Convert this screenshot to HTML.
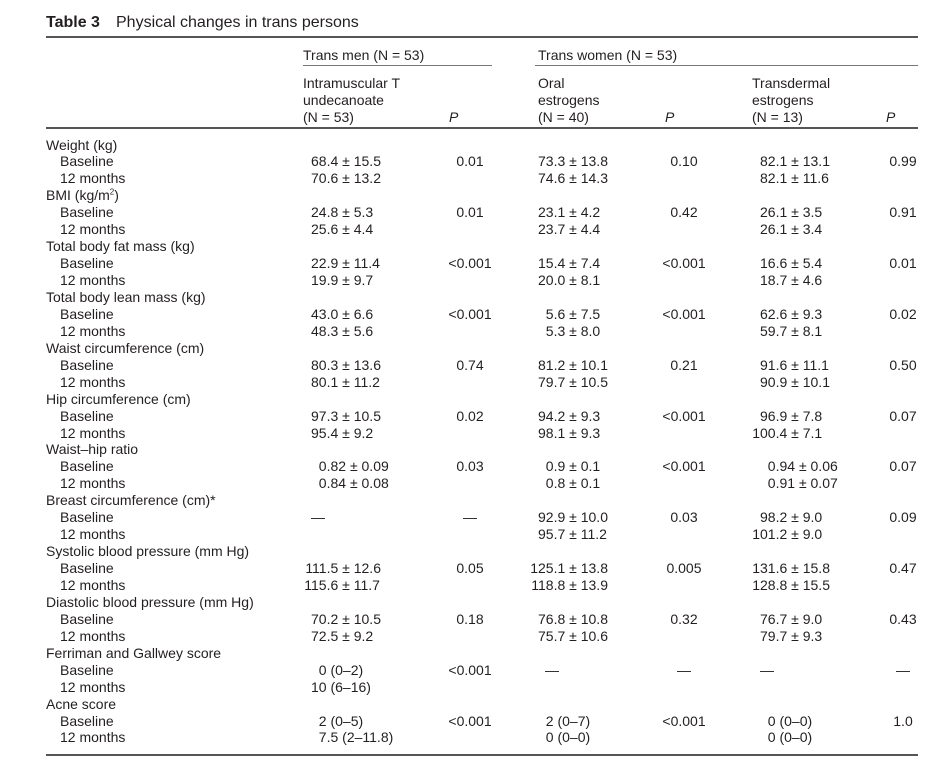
<!DOCTYPE html>
<html><head><meta charset="utf-8"><style>
body{margin:0;width:950px;height:763px;background:#fff;position:relative;font-family:"Liberation Sans",Arial,sans-serif;color:#231f20;font-size:14px;overflow:hidden}
.r{position:absolute;left:0;width:950px;height:17px;line-height:17px}
.r span{position:absolute;white-space:nowrap;top:0}
.l{left:46px}.s{left:60px}
.c1{left:296.6px}.c2{left:523.6px}.c3{left:745.6px}
.p1{left:440px;width:60px;text-align:center}.p2{left:654px;width:60px;text-align:center}.p3{left:873px;width:60px;text-align:center}
i{font-style:normal;display:inline-block;width:30px;text-align:right}
.d1{left:311px}.d2{left:545px}.d3{left:760px}
.h{position:absolute;white-space:nowrap;line-height:17px}
.rule{position:absolute;background:#555}
</style></head><body>
<div class="h" style="left:46px;top:14px;font-size:16px;font-weight:bold">Table 3</div>
<div class="h" style="left:116px;top:14px;font-size:16px">Physical changes in trans persons</div>
<div class="rule" style="left:46px;top:36px;width:872px;height:1.5px"></div>
<div class="h" style="left:303px;top:47px">Trans men (N = 53)</div>
<div class="h" style="left:538px;top:47px">Trans women (N = 53)</div>
<div class="rule" style="left:303px;top:65px;width:189px;height:1px;background:#777"></div>
<div class="rule" style="left:535px;top:65px;width:383px;height:1px;background:#777"></div>
<div class="h" style="left:303px;top:75px">Intramuscular T<br>undecanoate<br>(N = 53)</div>
<div class="h" style="left:538px;top:75px">Oral<br>estrogens<br>(N = 40)</div>
<div class="h" style="left:752px;top:75px">Transdermal<br>estrogens<br>(N = 13)</div>
<div class="h" style="left:449px;top:109px;font-style:italic">P</div>
<div class="h" style="left:665px;top:109px;font-style:italic">P</div>
<div class="h" style="left:886px;top:109px;font-style:italic">P</div>
<div class="rule" style="left:46px;top:127px;width:872px;height:1.5px"></div>

<div class="r" style="top:136.5px"><span class="l">Weight (kg)</span></div>
<div class="r" style="top:153.4px"><span class="s">Baseline</span><span class="c1"><i>68</i>.4 ± 15.5</span><span class="p1">0.01</span><span class="c2"><i>73</i>.3 ± 13.8</span><span class="p2">0.10</span><span class="c3"><i>82</i>.1 ± 13.1</span><span class="p3">0.99</span></div>
<div class="r" style="top:170.4px"><span class="s">12 months</span><span class="c1"><i>70</i>.6 ± 13.2</span><span class="c2"><i>74</i>.6 ± 14.3</span><span class="c3"><i>82</i>.1 ± 11.6</span></div>
<div class="r" style="top:187.3px"><span class="l">BMI (kg/m<sup style="font-size:8px;line-height:0">2</sup>)</span></div>
<div class="r" style="top:204.3px"><span class="s">Baseline</span><span class="c1"><i>24</i>.8 ± 5.3</span><span class="p1">0.01</span><span class="c2"><i>23</i>.1 ± 4.2</span><span class="p2">0.42</span><span class="c3"><i>26</i>.1 ± 3.5</span><span class="p3">0.91</span></div>
<div class="r" style="top:221.2px"><span class="s">12 months</span><span class="c1"><i>25</i>.6 ± 4.4</span><span class="c2"><i>23</i>.7 ± 4.4</span><span class="c3"><i>26</i>.1 ± 3.4</span></div>
<div class="r" style="top:238.1px"><span class="l">Total body fat mass (kg)</span></div>
<div class="r" style="top:255.1px"><span class="s">Baseline</span><span class="c1"><i>22</i>.9 ± 11.4</span><span class="p1">&lt;0.001</span><span class="c2"><i>15</i>.4 ± 7.4</span><span class="p2">&lt;0.001</span><span class="c3"><i>16</i>.6 ± 5.4</span><span class="p3">0.01</span></div>
<div class="r" style="top:272px"><span class="s">12 months</span><span class="c1"><i>19</i>.9 ± 9.7</span><span class="c2"><i>20</i>.0 ± 8.1</span><span class="c3"><i>18</i>.7 ± 4.6</span></div>
<div class="r" style="top:289px"><span class="l">Total body lean mass (kg)</span></div>
<div class="r" style="top:305.9px"><span class="s">Baseline</span><span class="c1"><i>43</i>.0 ± 6.6</span><span class="p1">&lt;0.001</span><span class="c2"><i>5</i>.6 ± 7.5</span><span class="p2">&lt;0.001</span><span class="c3"><i>62</i>.6 ± 9.3</span><span class="p3">0.02</span></div>
<div class="r" style="top:322.8px"><span class="s">12 months</span><span class="c1"><i>48</i>.3 ± 5.6</span><span class="c2"><i>5</i>.3 ± 8.0</span><span class="c3"><i>59</i>.7 ± 8.1</span></div>
<div class="r" style="top:339.8px"><span class="l">Waist circumference (cm)</span></div>
<div class="r" style="top:356.7px"><span class="s">Baseline</span><span class="c1"><i>80</i>.3 ± 13.6</span><span class="p1">0.74</span><span class="c2"><i>81</i>.2 ± 10.1</span><span class="p2">0.21</span><span class="c3"><i>91</i>.6 ± 11.1</span><span class="p3">0.50</span></div>
<div class="r" style="top:373.7px"><span class="s">12 months</span><span class="c1"><i>80</i>.1 ± 11.2</span><span class="c2"><i>79</i>.7 ± 10.5</span><span class="c3"><i>90</i>.9 ± 10.1</span></div>
<div class="r" style="top:390.6px"><span class="l">Hip circumference (cm)</span></div>
<div class="r" style="top:407.5px"><span class="s">Baseline</span><span class="c1"><i>97</i>.3 ± 10.5</span><span class="p1">0.02</span><span class="c2"><i>94</i>.2 ± 9.3</span><span class="p2">&lt;0.001</span><span class="c3"><i>96</i>.9 ± 7.8</span><span class="p3">0.07</span></div>
<div class="r" style="top:424.5px"><span class="s">12 months</span><span class="c1"><i>95</i>.4 ± 9.2</span><span class="c2"><i>98</i>.1 ± 9.3</span><span class="c3"><i>100</i>.4 ± 7.1</span></div>
<div class="r" style="top:441.4px"><span class="l">Waist–hip ratio</span></div>
<div class="r" style="top:458.4px"><span class="s">Baseline</span><span class="c1"><i>0</i>.82 ± 0.09</span><span class="p1">0.03</span><span class="c2"><i>0</i>.9 ± 0.1</span><span class="p2">&lt;0.001</span><span class="c3"><i>0</i>.94 ± 0.06</span><span class="p3">0.07</span></div>
<div class="r" style="top:475.3px"><span class="s">12 months</span><span class="c1"><i>0</i>.84 ± 0.08</span><span class="c2"><i>0</i>.8 ± 0.1</span><span class="c3"><i>0</i>.91 ± 0.07</span></div>
<div class="r" style="top:492.2px"><span class="l">Breast circumference (cm)*</span></div>
<div class="r" style="top:509.2px"><span class="s">Baseline</span><span class="d1">—</span><span class="p1">—</span><span class="c2"><i>92</i>.9 ± 10.0</span><span class="p2">0.03</span><span class="c3"><i>98</i>.2 ± 9.0</span><span class="p3">0.09</span></div>
<div class="r" style="top:526.1px"><span class="s">12 months</span><span class="c2"><i>95</i>.7 ± 11.2</span><span class="c3"><i>101</i>.2 ± 9.0</span></div>
<div class="r" style="top:543.1px"><span class="l">Systolic blood pressure (mm Hg)</span></div>
<div class="r" style="top:560px"><span class="s">Baseline</span><span class="c1"><i>111</i>.5 ± 12.6</span><span class="p1">0.05</span><span class="c2"><i>125</i>.1 ± 13.8</span><span class="p2">0.005</span><span class="c3"><i>131</i>.6 ± 15.8</span><span class="p3">0.47</span></div>
<div class="r" style="top:576.9px"><span class="s">12 months</span><span class="c1"><i>115</i>.6 ± 11.7</span><span class="c2"><i>118</i>.8 ± 13.9</span><span class="c3"><i>128</i>.8 ± 15.5</span></div>
<div class="r" style="top:593.9px"><span class="l">Diastolic blood pressure (mm Hg)</span></div>
<div class="r" style="top:610.8px"><span class="s">Baseline</span><span class="c1"><i>70</i>.2 ± 10.5</span><span class="p1">0.18</span><span class="c2"><i>76</i>.8 ± 10.8</span><span class="p2">0.32</span><span class="c3"><i>76</i>.7 ± 9.0</span><span class="p3">0.43</span></div>
<div class="r" style="top:627.8px"><span class="s">12 months</span><span class="c1"><i>72</i>.5 ± 9.2</span><span class="c2"><i>75</i>.7 ± 10.6</span><span class="c3"><i>79</i>.7 ± 9.3</span></div>
<div class="r" style="top:644.7px"><span class="l">Ferriman and Gallwey score</span></div>
<div class="r" style="top:661.6px"><span class="s">Baseline</span><span class="c1"><i>0</i> (0–2)</span><span class="p1">&lt;0.001</span><span class="d2">—</span><span class="p2">—</span><span class="d3">—</span><span class="p3">—</span></div>
<div class="r" style="top:678.6px"><span class="s">12 months</span><span class="c1"><i>10</i> (6–16)</span></div>
<div class="r" style="top:695.5px"><span class="l">Acne score</span></div>
<div class="r" style="top:712.5px"><span class="s">Baseline</span><span class="c1"><i>2</i> (0–5)</span><span class="p1">&lt;0.001</span><span class="c2"><i>2</i> (0–7)</span><span class="p2">&lt;0.001</span><span class="c3"><i>0</i> (0–0)</span><span class="p3">1.0</span></div>
<div class="r" style="top:729.4px"><span class="s">12 months</span><span class="c1"><i>7</i>.5 (2–11.8)</span><span class="c2"><i>0</i> (0–0)</span><span class="c3"><i>0</i> (0–0)</span></div>
<div class="rule" style="left:46px;top:754px;width:872px;height:1.5px"></div>
</body></html>
